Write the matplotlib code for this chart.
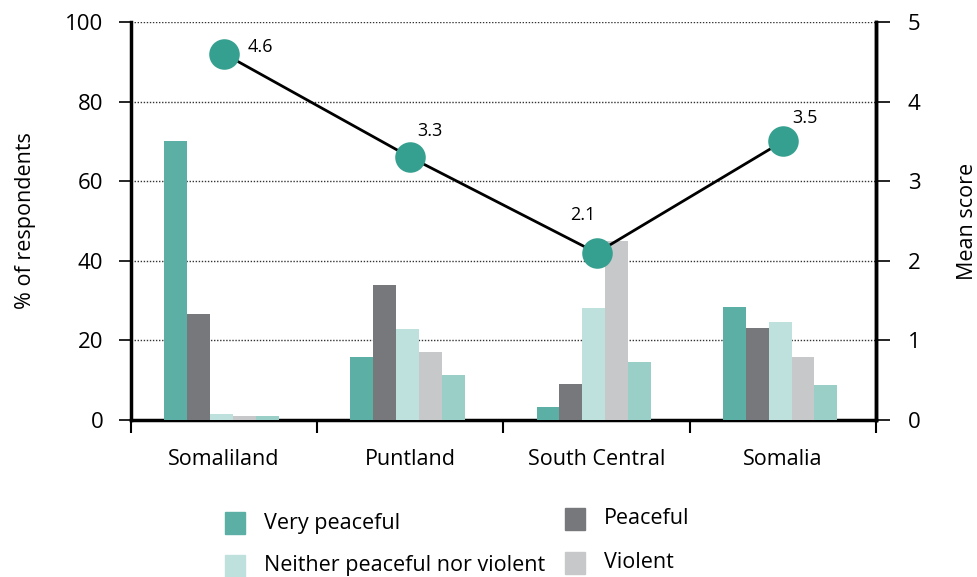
import matplotlib
matplotlib.use("Agg")
import matplotlib.pyplot as plt
from matplotlib.patches import Rectangle
import numpy as np

plt.rcParams['font.family'] = ['Open Sans', 'DejaVu Sans']

regions = ["Somaliland", "Puntland", "South Central", "Somalia"]
series_names = ["Very peaceful", "Peaceful", "Neither peaceful nor violent", "Violent", "Very violent"]
very_peaceful = [70, 15.8, 3.2, 28.4]
peaceful = [26.6, 34, 9, 23.1]
neither = [1.6, 22.9, 28.1, 24.6]
violent = [1.0, 17, 45, 15.8]
very_violent = [1.0, 11.3, 14.6, 8.8]
mean_score = [4.6, 3.3, 2.1, 3.5]

colors = ["#5BAFA5", "#77787C", "#BFE1DE", "#C7C8CA", "#9ACFC8"]
marker_color = "#36A090"

fig = plt.figure(figsize=(9.78, 5.77), dpi=100)
ax = fig.add_axes([131/978, 1-420/577, (876-131)/978, (420-22)/577])

x = np.arange(len(regions))
w = 0.123
all_series = [very_peaceful, peaceful, neither, violent, very_violent]
for i, (vals, c) in enumerate(zip(all_series, colors)):
    ax.bar(x + (i - 2) * w - 0.015, vals, width=w, color=c, zorder=3)

ax.set_xlim(-0.5, 3.5)
ax.set_ylim(0, 100)
ax.set_yticks([0, 20, 40, 60, 80, 100])
ax.tick_params(axis='y', direction='out', length=9, width=1.2, labelsize=16, pad=11)
ax.set_xticks(x)
ax.set_xticklabels(regions, fontsize=15.5)
ax.tick_params(axis='x', which='major', length=0, pad=21)
ax.set_xticks([-0.5, 0.5, 1.5, 2.5, 3.5], minor=True)
ax.tick_params(axis='x', which='minor', length=9, width=1.5, direction='out')
for yv in [20, 40, 60, 80, 100]:
    ax.axhline(yv, color="#333333", linestyle=(0, (1, 1.2)), linewidth=1.0, zorder=1)
ax.spines['top'].set_visible(False)
for s in ['left', 'bottom', 'right']:
    ax.spines[s].set_linewidth(2.5)
    ax.spines[s].set_color('black')
ax.set_ylabel("% of respondents", fontsize=15.5, va='center')
ax.yaxis.set_label_coords(-0.142, 0.5)

ax2 = ax.twinx()
ax2.set_ylim(0, 5)
ax2.set_yticks([0, 1, 2, 3, 4, 5])
ax2.tick_params(axis='y', direction='out', length=10, width=1.2, labelsize=16, pad=13)
ax2.spines['top'].set_visible(False)
ax2.spines['right'].set_linewidth(2.5)
ax2.spines['left'].set_visible(False)
ax2.spines['bottom'].set_visible(False)
ax2.set_ylabel("Mean score", fontsize=15.5, va='center')
ax2.yaxis.set_label_coords((968-131)/745, 0.5)
ax2.plot(x, mean_score, color='black', linewidth=2, zorder=4)
ax2.plot(x, mean_score, 'o', color=marker_color, markersize=22, zorder=5, markeredgewidth=0)
offsets = [(26, 5), (14, 19), (-10, 27), (16, 17)]
for xi, v, off in zip(x, mean_score, offsets):
    ax2.annotate(f"{v}", (xi, v), xytext=off, textcoords='offset points',
                 fontsize=13, ha='center', va='center', zorder=6)

# Legend drawn manually
legend_items = [
    ("Very peaceful", colors[0], 225, 523),
    ("Peaceful", colors[1], 565, 519),
    ("Neither peaceful nor violent", colors[2], 225, 566),
    ("Violent", colors[3], 565, 563),
]
for label, c, px, py in legend_items:
    fig.patches.append(Rectangle((px/978, 1-(py+11)/577), 20/978, 22/577,
                                 transform=fig.transFigure, color=c, figure=fig))
    fig.text((px+39)/978, 1-py/577, label, fontsize=15.5, va='center', ha='left')

fig.savefig("out.png", dpi=100)
